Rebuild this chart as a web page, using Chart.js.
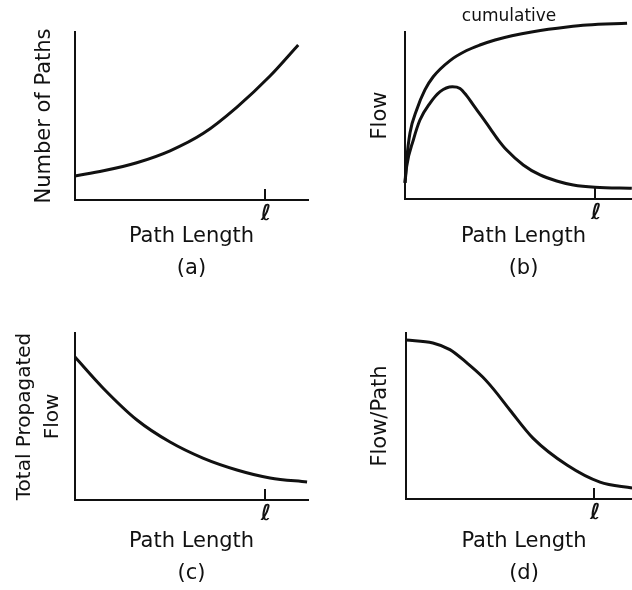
<!DOCTYPE html>
<html>
<head>
<meta charset="utf-8">
<script src="https://cdn.jsdelivr.net/npm/chart.js@4.4.1/dist/chart.umd.min.js"></script>
<style>
 html, body { margin: 0; padding: 0; background: #fff; overflow: hidden; }
 #page { position: relative; width: 632px; height: 590px; overflow: hidden; background: #fff; }
 .panel { position: absolute; }
</style>
</head>
<body>
<div id="page">
 <canvas id="chartA" class="panel" width="316" height="295" style="left:0;top:0"></canvas>
 <canvas id="chartB" class="panel" width="326" height="295" style="left:316px;top:0"></canvas>
 <canvas id="chartC" class="panel" width="316" height="295" style="left:0;top:295px"></canvas>
 <canvas id="chartD" class="panel" width="326" height="295" style="left:316px;top:295px"></canvas>
</div>
<script>
'use strict';

// values, both axes in arbitrary units 0..10
var lengthA = [0, 1.22, 2.65, 4.08, 5.51, 6.94, 8.37, 9.58];
var pathsA = [1.43, 1.74, 2.22, 2.93, 3.97, 5.52, 7.38, 9.23];

var lengthB = [0, 0.07, 0.35, 0.63, 1.05, 1.48, 2.0, 2.32, 2.60, 2.88, 3.24, 3.59, 3.94, 4.29, 4.99, 5.70, 6.40, 7.10, 8.02, 9.57];
var flowB = [0.96, 1.95, 3.53, 4.73, 5.73, 6.43, 6.72, 6.62, 6.19, 5.63, 4.93, 4.23, 3.53, 2.93, 2.04, 1.44, 1.08, 0.84, 0.70, 0.64];
var lengthCum = [0, 0.07, 0.21, 0.49, 0.84, 1.19, 1.90, 2.60, 3.16, 3.80, 4.51, 5.40, 6.84, 7.68, 9.37];
var cumulativeB = [0.96, 2.34, 3.95, 5.33, 6.53, 7.32, 8.29, 8.89, 9.22, 9.52, 9.78, 10.02, 10.30, 10.42, 10.52];

var lengthC = [0, 1.2, 2.66, 4.08, 5.49, 6.95, 8.37, 9.96];
var propagatedC = [8.56, 6.71, 4.79, 3.47, 2.51, 1.80, 1.32, 1.08];

var lengthD = [0, 1.14, 1.86, 2.58, 3.25, 3.69, 4.41, 5.38, 6.82, 8.22, 9.58];
var flowPerPathD = [9.58, 9.40, 9.0, 8.2, 7.35, 6.65, 5.35, 3.67, 2.05, 1.02, 0.66];

// the marked path length l on each x axis
var ellA = 8.15, ellB = 8.02, ellC = 8.15, ellD = 7.97;
var tickLabel = 'ℓ';

var ink = '#111';
var face = '"DejaVu Sans", "Liberation Sans", sans-serif';

function points(xs, ys) {
  return xs.map(function (x, i) { return { x: x, y: ys[i] }; });
}

// short tick drawn upward from the x axis at l
var innerTick = {
  id: 'innerTick',
  afterDraw: function (chart) {
    var sx = chart.scales.x, c = chart.ctx;
    c.save();
    c.strokeStyle = ink;
    c.lineWidth = 2;
    sx.ticks.forEach(function (t) {
      var px = Math.round(sx.getPixelForValue(t.value));
      c.beginPath();
      c.moveTo(px, sx.top);
      c.lineTo(px, sx.top - 11);
      c.stroke();
    });
    c.restore();
  }
};

// text label placed next to a curve
var curveLabel = {
  id: 'curveLabel',
  afterDatasetsDraw: function (chart, args, opts) {
    if (!opts || !opts.text) return;
    var c = chart.ctx;
    c.save();
    c.font = '17px ' + face;
    c.fillStyle = ink;
    c.textAlign = 'center';
    c.textBaseline = 'middle';
    c.fillText(opts.text, chart.scales.x.getPixelForValue(opts.x), chart.scales.y.getPixelForValue(opts.y));
    c.restore();
  }
};

function makePanel(id, cfg) {
  var sets = cfg.series.map(function (s) {
    return {
      data: points(s[0], s[1]),
      borderColor: ink,
      borderWidth: 3,
      pointRadius: 0,
      fill: false,
      tension: 0.4,
      cubicInterpolationMode: 'monotone',
      clip: false
    };
  });
  return new Chart(document.getElementById(id), {
    type: 'line',
    data: { datasets: sets },
    options: {
      responsive: false,
      animation: false,
      layout: { padding: { top: cfg.top, right: cfg.right, bottom: 0, left: 0 } },
      plugins: {
        legend: { display: false },
        tooltip: { enabled: false },
        curveLabel: cfg.label || {}
      },
      scales: {
        x: {
          type: 'linear', min: 0, max: 10,
          grid: { display: false, drawTicks: false },
          border: { display: true, color: ink, width: 2 },
          afterBuildTicks: function (s) { s.ticks = [{ value: cfg.ell }]; },
          afterFit: function (s) { s.height = cfg.xHeight; },
          ticks: {
            padding: 1,
            labelOffset: 1,
            color: ink,
            font: { family: face, size: 22, style: 'italic', weight: 'bold' },
            callback: function () { return tickLabel; }
          },
          title: {
            display: true,
            text: ['Path Length', cfg.tag],
            color: ink,
            font: { family: face, size: 21, lineHeight: 1.5 },
            padding: { top: 0, bottom: cfg.titleBottom }
          }
        },
        y: {
          type: 'linear', min: 0, max: 10,
          grid: { display: false, drawTicks: false },
          border: { display: true, color: ink, width: 2 },
          ticks: { display: false },
          afterFit: function (s) { s.width = cfg.yWidth; },
          title: {
            display: true,
            text: cfg.yTitle,
            color: ink,
            font: { family: face, size: cfg.yFont || 21, lineHeight: cfg.yLine || 1.2 },
            padding: { top: cfg.yPad, bottom: 0 }
          }
        }
      }
    },
    plugins: [innerTick, curveLabel]
  });
}

makePanel('chartA', {
  series: [[lengthA, pathsA]],
  ell: ellA, tag: '(a)', yTitle: 'Number of Paths',
  top: 32, right: 8, yWidth: 75, xHeight: 95, titleBottom: 11, yPad: 32
});

makePanel('chartB', {
  series: [[lengthCum, cumulativeB], [lengthB, flowB]],
  ell: ellB, tag: '(b)', yTitle: 'Flow',
  top: 32, right: 0, yWidth: 89, xHeight: 96, titleBottom: 11, yPad: 52,
  label: { text: 'cumulative', x: 4.39, y: 10.9 }
});

makePanel('chartC', {
  series: [[lengthC, propagatedC]],
  ell: ellC, tag: '(c)', yTitle: ['Total Propagated', 'Flow'],
  top: 38, right: 8, yWidth: 75, xHeight: 90, titleBottom: 1, yPad: 11, yFont: 20, yLine: 1.4
});

makePanel('chartD', {
  series: [[lengthD, flowPerPathD]],
  ell: ellD, tag: '(d)', yTitle: 'Flow/Path',
  top: 38, right: 0, yWidth: 90, xHeight: 91, titleBottom: 1, yPad: 52
});
</script>
</body>
</html>
